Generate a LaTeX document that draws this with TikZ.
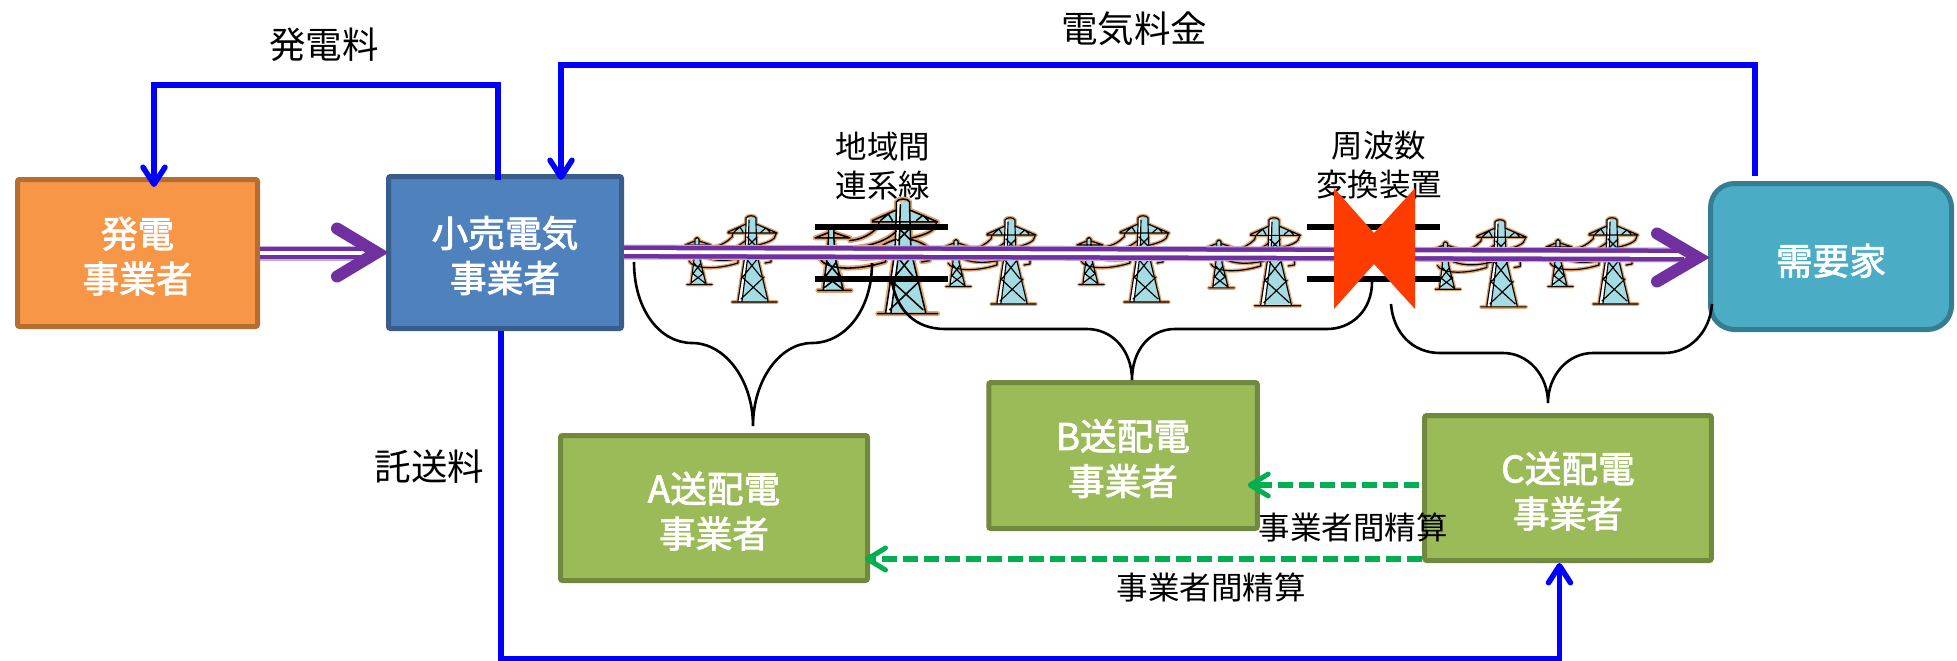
\documentclass[tikz,border=0pt]{standalone}
\usepackage{fontspec}
\setmainfont{Noto Sans CJK JP}
\newfontfamily\boxfont[RawFeature={embolden=2.2}]{Noto Sans CJK JP}
\usetikzlibrary{arrows.meta}
\normallineskiplimit=-100pt
\lineskiplimit=-100pt
\newcommand\tp{\rule{0pt}{37pt}}
\definecolor{genfill}{HTML}{F79646}\definecolor{genline}{HTML}{B66D31}
\definecolor{retfill}{HTML}{4F81BD}\definecolor{retline}{HTML}{385D8A}
\definecolor{cusfill}{HTML}{4BACC6}\definecolor{cusline}{HTML}{357D91}
\definecolor{grnfill}{HTML}{9BBB59}\definecolor{grnline}{HTML}{71893F}
\definecolor{feeblue}{HTML}{0000FF}\definecolor{flowpur}{HTML}{7030A0}
\definecolor{flowpale}{HTML}{C4ACDC}
\definecolor{settle}{HTML}{00B050}\definecolor{halocol}{HTML}{E2A46E}
\definecolor{iceblue}{HTML}{A5DCE4}\definecolor{hotred}{HTML}{FF3C00}
\newcommand\pylonlines{
 (-5,9) -- (-5,3) .. controls (-4,0) and (4,0) .. (5,3) -- (5,9)
 (-23,17) -- (-5,9) (5,9) -- (26,18) (-23,18) -- (26,18)
 (-17,17) -- (-11,12) -- (-8,17) (10,17) -- (15,13) -- (19,17)
 (-5,9) -- (-6,40) -- (-13,86) (5,9) -- (6,40) -- (17,86)
 (-2,5) -- (-3,40) -- (-9,86)
 (-19,38) .. controls (-12,33) and (-8,32) .. (-5,31)
 (5,31) .. controls (10,32) and (16,34) .. (21,39) (-19,39) -- (21,39)
 (-19,87) -- (26,87)
 (-4,22) -- (6,32) (6,22) -- (-4,32)
 (-6,42) -- (10,62) (8,42) -- (-10,64)
 (-9,62) -- (15,84) (13,62) -- (-10,84)
 (-40,32) .. controls (-30,31) and (-24,27) .. (-19,22) -- (-18,18)
 (-44,38) .. controls (-25,37) and (-12,32) .. (-5,25)
 (-62,46) .. controls (-58,54) and (-35,55) .. (-13,48) -- (-13,39)
 (-47,42) .. controls (-35,47) and (-20,46) .. (-6,42)
 (25,19) .. controls (25,25) and (15,28) .. (7,30)
 (20,39) -- (20,47) -- (14,48)
 (-56,30) -- (-56,24) .. controls (-55,22) and (-53,22) .. (-52,24) -- (-52,30)
 (-66,30) -- (-56,26) (-52,26) -- (-40,30) (-66,30) -- (-40,30)
 (-64,41) -- (-56,37) (-52,37) -- (-43,41) (-64,41) -- (-43,41)
 (-56,30) -- (-57,45) -- (-60,69) (-52,30) -- (-51,45) -- (-45,69)
 (-64,69.5) -- (-39,69.5)
 (-57,48) -- (-47,60) (-50,48) -- (-59,60)
 (-59,58) -- (-46,68) (-47,58) -- (-60,68)
}
\newcommand\pylons[3]{\begin{scope}[shift={(#1,#2)},scale=#3]
 \draw[halocol,line width=#3*3.8pt,line join=round,line cap=round] \pylonlines;
 \fill[white] (-5,3) -- (5,3) -- (6,40) -- (17,86) -- (-13,86) -- (-6,40) -- cycle
   (-56,24) -- (-52,24) -- (-51,45) -- (-45,69) -- (-60,69) -- (-57,45) -- cycle;
 \fill[iceblue] (-2,3) -- (5,3) -- (6,40) -- (17,86) -- (-9,86) -- (-3,40) -- cycle
   (-55,24) -- (-52,24) -- (-51,45) -- (-45,69) -- (-58,69) -- (-56,45) -- cycle
   (-20,17.5) -- (-5,10) -- (-5,17.5) -- cycle (5,10) -- (23,17.5) -- (5,17.5) -- cycle
   (-17,38.5) -- (-5,32) -- (-5,38.5) -- cycle (5,32) -- (19,38.5) -- (5,38.5) -- cycle;
 \draw[black,line width=#3*1.15pt,line join=round,line cap=round] \pylonlines;
\end{scope}}
\tikzset{
 boxnode/.style={draw,line width=5pt,inner sep=0pt,rounded corners=2pt,text=white,align=center,
   font=\boxfont\fontsize{36.7}{45}\selectfont},
 genbox/.style={boxnode,fill=genfill,draw=genline},
 retbox/.style={boxnode,fill=retfill,draw=retline},
 cusbox/.style={boxnode,fill=cusfill,draw=cusline,rounded corners=24pt},
 grnbox/.style={boxnode,fill=grnfill,draw=grnline},
 biglabel/.style={inner sep=0pt,align=center,font=\fontsize{36.5}{45}\selectfont},
 smalllabel/.style={inner sep=0pt,align=center,font=\fontsize{31.5}{38.5}\selectfont},
 feeline/.style={feeblue,line width=5.5pt},
 feetip/.style={-{Straight Barb[length=17pt,width=22pt,line width=5.5pt,round]}},
 settleline/.style={settle,line width=5.5pt,dash pattern=on 15pt off 6pt,
   -{Straight Barb[length=18pt,width=22pt,line width=5pt,round]}},
 flowpalest/.style={flowpale,line width=15pt},
 flowline/.style={flowpur,line width=4.5pt,double=white,double distance=3.8pt},
 flowhead/.style={flowpur,line width=12pt,line cap=round,line join=miter},
 bracket/.style={black,line width=2.6pt},
 barline/.style={black,line width=5.5pt},
}
\begin{document}
\begin{tikzpicture}[x=1pt,y=-1pt]
\useasboundingbox (0,0) rectangle (1957,661);
% labels
\node[biglabel] (lgen) at (324,45) {発電料};
\node[biglabel] (lele) at (1134,28.5) {電気料金};
\node[biglabel] (ltak) at (429.5,467) {託送料};
\node[smalllabel] (lint) at (883,166) {地域間\\連系線};
\node[smalllabel] (lfrq) at (1379,165) {周波数\\変換装置};
% pylons
\pylons{751}{215}{1}
\pylons{903}{198}{1.33}
\pylons{1010}{217}{1}
\pylons{1143}{215}{1}
\pylons{1274}{217}{1.02}
\pylons{1500}{219}{1.01}
\pylons{1612}{217}{1}
% boxes
\node[genbox,minimum width=240pt,minimum height=147pt] (gen) at (137.5,253) {\tp 発電\\事業者};
\node[retbox,minimum width=233pt,minimum height=152pt] (ret) at (505,252.5) {\tp 小売電気\\事業者};
\node[cusbox,minimum width=241pt,minimum height=146pt] (cus) at (1831,256.5) {\rule{0pt}{39.5pt}需要家};
\node[grnbox,minimum width=307pt,minimum height=145pt] (boxa) at (714,508) {\tp A送配電\\事業者};
\node[grnbox,minimum width=268.5pt,minimum height=146pt] (boxb) at (1123,455.5) {\tp B送配電\\事業者};
\node[grnbox,minimum width=286.6pt,minimum height=145pt] (boxc) at (1568,488) {\tp C送配電\\事業者};
% braces
\draw[bracket] (634,262) .. controls (634,310) and (660,343) .. (692,343) .. controls (725,343) and (753,380) .. (753,426) .. controls (753,380) and (780,343) .. (812,343) .. controls (845,343) and (872,310) .. (872,263);
\draw[bracket] (892,282) .. controls (897,310) and (915,329) .. (945,329) -- (1087,329) .. controls (1112,329) and (1132,350) .. (1132,380) .. controls (1132,350) and (1150,329) .. (1175,329) -- (1327,329) .. controls (1352,329) and (1372,310) .. (1372,282);
\draw[bracket] (1391,304) .. controls (1393,332) and (1412,353) .. (1440,353) -- (1503,353) .. controls (1528,353) and (1548,375) .. (1548,403) .. controls (1548,375) and (1568,353) .. (1593,353) -- (1664,353) .. controls (1690,353) and (1710,332) .. (1712,304);
% fee lines
\coordinate (feea) at (498,85);
\coordinate (feeb) at (154,85);
\draw[feeline,feetip] ([xshift=-7pt,yshift=-6pt]ret.north) -- (feea) -- (feeb) -- ([xshift=16.5pt,yshift=-10pt]gen.north);
\coordinate (elea) at (1755,65);
\coordinate (eleb) at (561,65);
\draw[feeline,feetip] ([xshift=-76pt,yshift=5pt]cus.north) -- (elea) -- (eleb) -- ([xshift=56pt,yshift=-6pt]ret.north);
\coordinate (taka) at (501,659);
\coordinate (takb) at (1559.5,659);
\draw[feeline,feetip] ([xshift=-4pt]ret.south) -- (taka) -- (takb) -- ([xshift=-8.5pt]boxc.south);
% settlement
\draw[settleline] ([yshift=-71pt]boxc.west) -- ([xshift=-5pt,yshift=-51pt]boxa.east);
\draw[settleline] ([xshift=-3pt,yshift=3pt]boxc.west) -- ([xshift=-12pt,yshift=-29.5pt]boxb.east);
\node[smalllabel] (lset1) at (1353,527) {事業者間精算};
\node[smalllabel] (lset2) at (1211,587) {事業者間精算};
% power flow
\coordinate (flowa) at (362,253);
\coordinate (flowb) at (1684,255);
\draw[flowpalest] (gen.east) -- (flowa);
\draw[flowpalest] ([yshift=0.5pt]ret.east) -- (flowb);
\draw[flowline] (gen.east) -- (flowa);
\draw[flowline] ([yshift=0.5pt]ret.east) -- (flowb);
\draw[flowhead] ([xshift=-49pt,yshift=24pt]ret.west) -- ([xshift=-9pt]ret.west) -- ([xshift=-49pt,yshift=-24pt]ret.west);
\draw[flowhead] ([xshift=-51pt,yshift=23pt]cus.west) -- ([xshift=-10pt,yshift=-1pt]cus.west) -- ([xshift=-51pt,yshift=-25pt]cus.west);
% interconnection bars
\draw[barline] (815,227) -- (948,227);
\draw[barline] (815,279) -- (948,279);
\draw[barline] (1307,227) -- (1440,227);
\draw[barline] (1307,279) -- (1440,279);
% converter
\fill[hotred] (1334,188) -- (1374,233) -- (1415,188) -- (1415,309) -- (1374,264) -- (1334,309) -- cycle;
\end{tikzpicture}
\end{document}
